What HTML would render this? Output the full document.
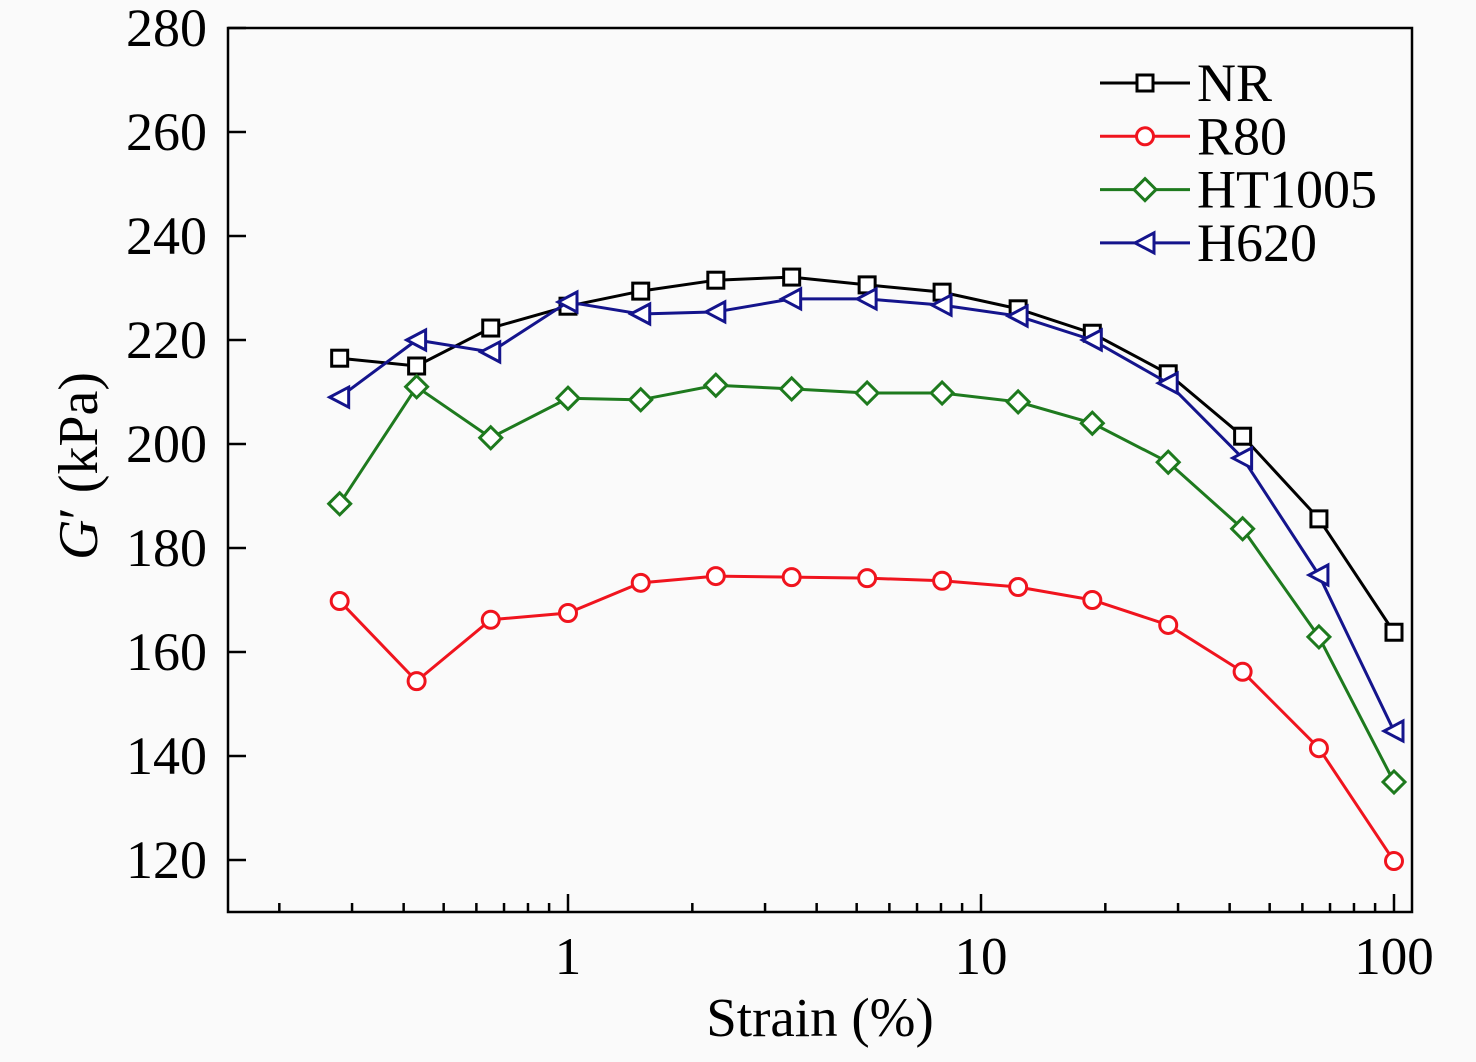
<!DOCTYPE html>
<html><head><meta charset="utf-8"><style>
html,body{margin:0;padding:0;background:#fafafa;}
svg text{font-family:"Liberation Serif",serif;}
</style></head><body>
<svg id="chart" width="1476" height="1057" xmlns="http://www.w3.org/2000/svg">
<rect x="0" y="0" width="1476" height="1057" fill="#fafafa"/>
</svg>
<script>
const strain=[0.28,0.43,0.65,1,1.5,2.28,3.48,5.3,8.05,12.3,18.6,28.4,43,65.8,100];
const seriesNames=["NR","R80","HT1005","H620"];
const nrValues=[216.5,215,222.3,226.5,229.4,231.5,232.1,230.6,229.2,226,221.3,213.5,201.5,185.6,163.8];
const r80Values=[169.8,154.4,166.2,167.5,173.3,174.6,174.4,174.2,173.7,172.5,170,165.2,156.2,141.5,119.8];
const ht1005Values=[188.5,211,201.2,208.8,208.5,211.3,210.6,209.8,209.8,208.1,204,196.5,183.7,162.9,135];
const h620Values=[209,220,217.7,227.3,225,225.4,227.9,227.9,226.7,224.6,220,211.7,197.3,174.8,144.8];
const yTicks=[120,140,160,180,200,220,240,260,280];
const xTicks=[1,10,100];

const NS="http://www.w3.org/2000/svg";
const svg=document.getElementById('chart');
const L=228,R=1412,T=28,B=912;
function xs(v){return 568+413*Math.log10(v);}
function ys(v){return 28+(280-v)*5.2;}
function mk(tag,attrs,parent){const e=document.createElementNS(NS,tag);for(const k in attrs)e.setAttribute(k,attrs[k]);(parent||svg).appendChild(e);return e;}

const frame=mk('rect',{x:L,y:T,width:R-L,height:B-T,fill:'none',stroke:'#000','stroke-width':2.5});



yTicks.forEach(v=>{
  const t=mk('line',{x1:L,x2:L+18,y1:ys(v),y2:ys(v),stroke:'#000','stroke-width':2.5});
  
  
  const tx=mk('text',{x:207,y:ys(v)+18,'text-anchor':'end','font-size':54});
  tx.textContent=v;
  
  
});
for(let d=-1;d<=2;d++){for(let m=1;m<10;m++){const v=m*Math.pow(10,d);const x=xs(v);if(x<L+2||x>R-2)continue;
  const major=(m===1);
  const t=mk('line',{x1:x,x2:x,y1:B,y2:B-(major?18:9),stroke:'#000','stroke-width':2.5});
  
  
}}
xTicks.forEach(v=>{
  const tx=mk('text',{x:xs(v),y:974,'text-anchor':'middle','font-size':53});
  tx.textContent=v;
  
  
});
const xt=mk('text',{x:820,y:1036,'text-anchor':'middle','font-size':55});
xt.textContent='Strain (%)';


const yt=mk('text',{x:0,y:0,'text-anchor':'middle','font-size':56,transform:'translate(97,466) rotate(-90)'});
yt.innerHTML='<tspan font-style="italic">G</tspan>\u2032 (kPa)';



function marker(type,x,y,color,parent){
  let e;
  if(type==='square')e=mk('rect',{x:x-8,y:y-8,width:16,height:16,fill:'#fff',stroke:color,'stroke-width':3},parent);
  else if(type==='circle')e=mk('circle',{cx:x,cy:y,r:8.5,fill:'#fff',stroke:color,'stroke-width':3},parent);
  else if(type==='diamond')e=mk('polygon',{points:`${x},${y-11} ${x+11},${y} ${x},${y+11} ${x-11},${y}`,fill:'#fff',stroke:color,'stroke-width':3},parent);
  else e=mk('polygon',{points:`${x-10},${y} ${x+9},${y-10} ${x+9},${y+10}`,fill:'#fff',stroke:color,'stroke-width':3},parent);
  return e;
}
const all=[[nrValues,'#000','square','nr'],[r80Values,'#f0141e','circle','r80'],[ht1005Values,'#1e7a1e','diamond','ht1005'],[h620Values,'#14148c','triangle','h620']];
all.forEach(([vals,color,type,name],i)=>{
  const g=mk('g',{});
  
  
  const pl=mk('polyline',{points:vals.map((v,j)=>xs(strain[j])+','+ys(v)).join(' '),fill:'none',stroke:color,'stroke-width':3},g);
  
  
  vals.forEach((v,j)=>{const m=marker(type,xs(strain[j]),ys(v),color,g);
    
    });
  const ly=83+i*53.3;
  const lg=mk('g',{});
  
  
  mk('line',{x1:1100,x2:1190,y1:ly,y2:ly,stroke:color,'stroke-width':3},lg);
  marker(type,1145,ly,color,lg);
  const lt=mk('text',{x:1197,y:ly+18,'font-size':54},lg);
  lt.textContent=seriesNames[i];
});
</script>
</body></html>
